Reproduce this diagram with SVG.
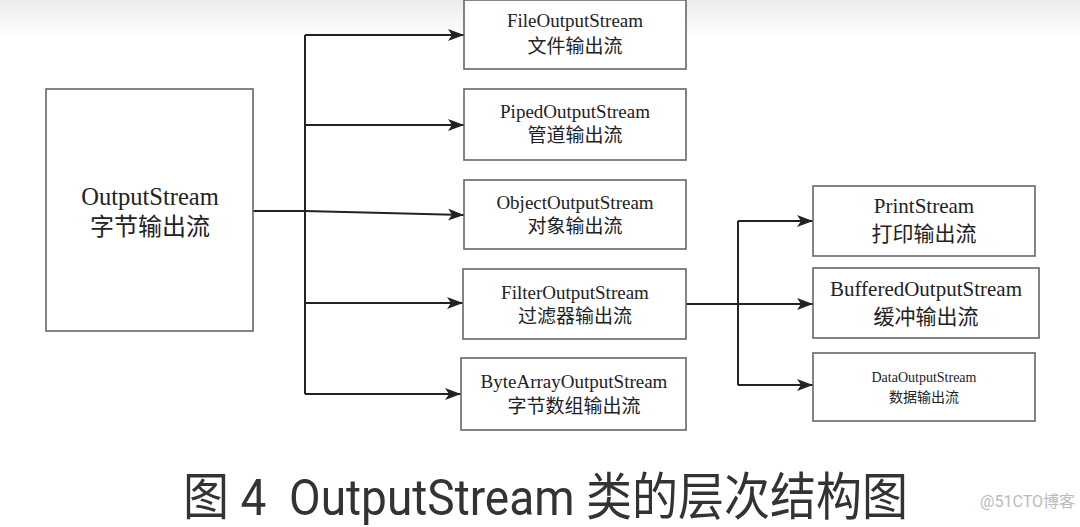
<svg xmlns="http://www.w3.org/2000/svg" width="1080" height="527" viewBox="0 0 1080 527">
<defs>
<linearGradient id="topfade" x1="0" y1="0" x2="0" y2="1">
<stop offset="0" stop-color="#ececec"/>
<stop offset="1" stop-color="#ffffff"/>
</linearGradient>
<marker id="arr" viewBox="0 0 16 12" refX="16" refY="6" markerWidth="16" markerHeight="12" markerUnits="userSpaceOnUse" orient="auto">
<path d="M0,0 L16,6 L0,12 L4,6 Z" fill="#222"/>
</marker>
<style>
.box{fill:#fff;stroke:#666;stroke-width:1.6}
.t{font-family:"Liberation Serif","Noto Sans CJK SC",serif;fill:#222;text-anchor:middle}
.en{font-size:19px}
.zh{font-size:19px}
.ln{fill:none;stroke:#222;stroke-width:2}
</style>
</defs>
<rect x="0" y="0" width="1080" height="527" fill="#fff"/>
<rect x="0" y="0" width="1080" height="40" fill="url(#topfade)"/>
<g id="connectors">
<path class="ln" d="M253,211 L305,211 L464,215" marker-end="url(#arr)"/>
<path class="ln" d="M305,35 L305,394"/>
<path class="ln" d="M305,35 L464,35" marker-end="url(#arr)"/>
<path class="ln" d="M305,125 L464,125" marker-end="url(#arr)"/>
<path class="ln" d="M305,303 L463,303" marker-end="url(#arr)"/>
<path class="ln" d="M305,394 L461,394" marker-end="url(#arr)"/>
<path class="ln" d="M686,304 L813,304" marker-end="url(#arr)"/>
<path class="ln" d="M738,221 L738,385"/>
<path class="ln" d="M738,221 L813,221" marker-end="url(#arr)"/>
<path class="ln" d="M738,385 L813,385" marker-end="url(#arr)"/>
</g>
<g id="OutputStream">
<rect class="box" x="46" y="89" width="207" height="242"/>
<text class="t" x="150" y="205" font-size="24.5">OutputStream</text>
<text class="t" x="150" y="235" font-size="24">字节输出流</text>
</g>
<g id="FileOutputStream">
<rect class="box" x="464" y="0" width="222" height="69"/>
<text class="t en" x="575" y="27">FileOutputStream</text>
<text class="t zh" x="575" y="53">文件输出流</text>
</g>
<g id="PipedOutputStream">
<rect class="box" x="464" y="89" width="222" height="71"/>
<text class="t en" x="575" y="118">PipedOutputStream</text>
<text class="t zh" x="575" y="142">管道输出流</text>
</g>
<g id="ObjectOutputStream">
<rect class="box" x="464" y="180" width="222" height="69"/>
<text class="t en" x="575" y="209">ObjectOutputStream</text>
<text class="t zh" x="575" y="233">对象输出流</text>
</g>
<g id="FilterOutputStream">
<rect class="box" x="463" y="269" width="223" height="70"/>
<text class="t en" x="575" y="299">FilterOutputStream</text>
<text class="t zh" x="575" y="323">过滤器输出流</text>
</g>
<g id="ByteArrayOutputStream">
<rect class="box" x="461" y="358" width="225" height="72"/>
<text class="t en" x="574" y="388">ByteArrayOutputStream</text>
<text class="t zh" x="574" y="413">字节数组输出流</text>
</g>
<g id="PrintStream">
<rect class="box" x="813" y="186" width="222" height="70"/>
<text class="t" x="924" y="213" font-size="21">PrintStream</text>
<text class="t" x="924" y="241" font-size="21">打印输出流</text>
</g>
<g id="BufferedOutputStream">
<rect class="box" x="813" y="268" width="226" height="70"/>
<text class="t" x="926" y="296" font-size="21">BufferedOutputStream</text>
<text class="t" x="926" y="324" font-size="21">缓冲输出流</text>
</g>
<g id="DataOutputStream">
<rect class="box" x="813" y="353" width="222" height="68"/>
<text class="t" x="924" y="382" font-size="14">DataOutputStream</text>
<text class="t" x="924" y="402" font-size="14">数据输出流</text>
</g>
<text transform="translate(183,515) scale(1,1.1)" x="0" y="0" xml:space="preserve" font-family="Roboto,'Noto Sans CJK SC',sans-serif" font-size="46" fill="#333">图 4  OutputStream 类的层次结构图</text>
<text x="1075" y="507" font-family="Roboto,'Noto Sans CJK SC',sans-serif" font-size="16" fill="#bbb" text-anchor="end">@51CTO博客</text>
</svg>
